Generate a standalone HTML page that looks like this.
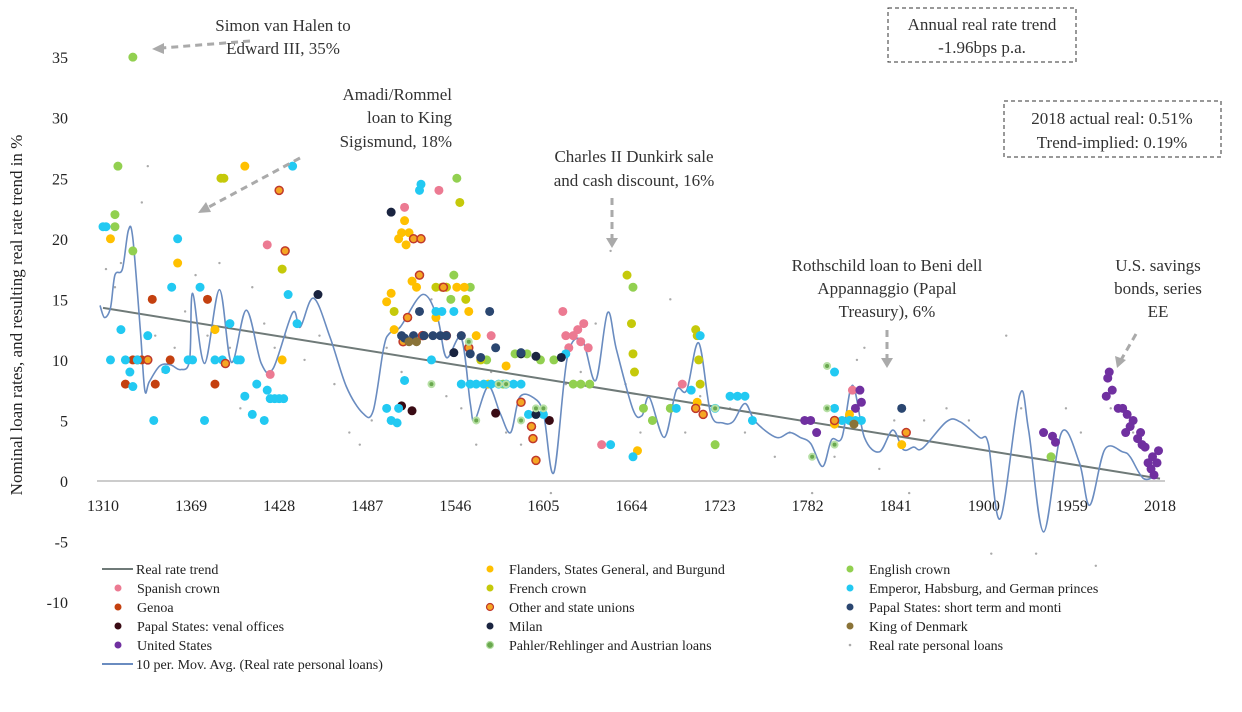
<!DOCTYPE html>
<html><head><meta charset="utf-8"><style>
body{margin:0;background:#fff;}
svg{display:block;font-family:"Liberation Serif",serif;}
</style></head><body>
<svg id="chart" width="1242" height="712" viewBox="0 0 1242 712" xmlns="http://www.w3.org/2000/svg">
<g id="axes"></g>
<g id="marks"></g>
<g id="annot" fill="#333" font-size="17">
 <text text-anchor="middle" x="283" y="31">Simon van Halen to</text>
 <text text-anchor="middle" x="283" y="54">Edward III, 35%</text>
 <text text-anchor="end" x="452" y="100">Amadi/Rommel</text>
 <text text-anchor="end" x="452" y="123">loan to King</text>
 <text text-anchor="end" x="452" y="147">Sigismund, 18%</text>
 <text text-anchor="middle" x="634" y="162">Charles II Dunkirk sale</text>
 <text text-anchor="middle" x="634" y="186">and cash discount, 16%</text>
 <text text-anchor="middle" x="887" y="271">Rothschild loan to Beni dell</text>
 <text text-anchor="middle" x="887" y="294">Appannaggio (Papal</text>
 <text text-anchor="middle" x="887" y="317">Treasury), 6%</text>
 <text text-anchor="middle" x="1158" y="271">U.S. savings</text>
 <text text-anchor="middle" x="1158" y="294">bonds, series</text>
 <text text-anchor="middle" x="1158" y="317">EE</text>
 <rect x="888" y="8" width="188" height="54" fill="none" stroke="#333" stroke-dasharray="4,3"/>
 <text text-anchor="middle" x="982" y="30">Annual real rate trend</text>
 <text text-anchor="middle" x="982" y="53">-1.96bps p.a.</text>
 <rect x="1004" y="101" width="217" height="56" fill="none" stroke="#333" stroke-dasharray="4,3"/>
 <text text-anchor="middle" x="1112" y="124">2018 actual real: 0.51%</text>
 <text text-anchor="middle" x="1112" y="148">Trend-implied: 0.19%</text>
</g>
<g stroke="#aaa" stroke-width="3" stroke-dasharray="7,5" fill="none">
 <line x1="250" y1="41" x2="162" y2="48"/>
 <line x1="300" y1="158" x2="207" y2="208"/>
 <line x1="612" y1="198" x2="612" y2="240"/>
 <line x1="887" y1="330" x2="887" y2="360"/>
 <line x1="1136" y1="334" x2="1121" y2="360"/>
</g>
<g fill="#aaa">
 <polygon points="152,49 164,43 164,54"/>
 <polygon points="198,213 206,202 211,212"/>
 <polygon points="612,248 606,238 618,238"/>
 <polygon points="887,368 881,358 893,358"/>
 <polygon points="1117,368 1115,356 1126,360"/>
</g>
<g id="legend" font-size="14" fill="#222"></g>
</svg>
<script>
const yTicks=[35,30,25,20,15,10,5,0,-5,-10];
const xTicks=[1310,1369,1428,1487,1546,1605,1664,1723,1782,1841,1900,1959,2018];
const maYears=[1308,1311,1315,1318,1323,1327,1330,1335,1338,1341,1348,1355,1362,1368,1370,1378,1388,1396,1406,1416,1424,1437,1442,1451,1462,1473,1484,1491,1498,1502,1509,1524,1534,1540,1550,1556,1559,1568,1576,1583,1589,1598,1605,1612,1621,1631,1640,1648,1654,1665,1671,1676,1686,1694,1701,1709,1717,1725,1732,1740,1747,1761,1770,1777,1784,1792,1798,1805,1812,1820,1830,1839,1846,1853,1859,1875,1884,1897,1903,1911,1924,1930,1940,1952,1964,1971,1981,1993,1998,2007,2016];
const maValues=[14.5,13.5,14.3,17,17.5,20.7,20,12.5,7.5,8.2,9.5,9.6,9.2,10,15.5,9.7,15.8,9.8,14.1,9.7,9.3,13.9,12.7,15.1,11.9,7.8,5.6,5.8,11,12.2,12.7,15.4,13.5,10.2,11.8,6.4,5,7.8,5.6,4,6.9,6.9,5.6,0.7,10.2,11.6,8.3,13.9,10.8,5.9,5.4,6.9,3.6,7.5,7.5,11.4,5.6,4.8,4.9,6.4,4.9,3.6,4,3.6,3.1,1.2,3.4,3.6,7.9,3.6,2.4,4.2,2.6,2.8,2.7,4.9,4.9,3.6,3.1,-3.1,7.1,4.2,-4.2,4,1.5,-2,2.6,2.4,2,0.2,0.5];
const trendYears=[1310,2018];
const trendValues=[14.3,0.2];
const series={
english:[[1318,22],[1320,26],[1318,21],[1330,19],[1547,25],[1545,17],[1543,15],[1556,16],[1567,10],[1578,8],[1586,10.5],[1590,10.5],[1594,10.5],[1603,10],[1612,10],[1625,8],[1630,8],[1636,8],[1665,16],[1672,6],[1678,5],[1690,6],[1720,3],[1800,5],[1945,2],[1330,35]],
spanish:[[1420,19.5],[1422,8.8],[1512,22.6],[1535,24],[1550,12],[1570,12],[1618,14],[1620,12],[1625,12],[1628,12.5],[1632,13],[1622,11],[1630,11.5],[1635,11],[1644,3],[1698,8],[1812,7.5]],
genoa:[[1325,8],[1330,10],[1333,10],[1336,10],[1340,10],[1343,15],[1345,8],[1355,10],[1380,15],[1385,8]],
venal:[[1510,6.2],[1517,5.8],[1573,5.6],[1609,5]],
us:[[1780,5],[1784,5],[1788,4],[1814,6],[1817,7.5],[1818,6.5],[1940,4],[1946,3.7],[1948,3.2],[1982,7],[1983,8.5],[1984,9],[1986,7.5],[1990,6],[1993,6],[1996,5.5],[1995,4],[1998,4.5],[2000,5],[2003,3.5],[2005,4],[2006,3],[2008,2.8],[2010,1.5],[2012,1],[2014,0.5],[2016,1.5],[2017,2.5],[2013,2]],
flanders:[[1315,20],[1360,18],[1385,12.5],[1405,26],[1430,10],[1500,14.8],[1503,15.5],[1505,12.5],[1508,20],[1510,20.5],[1512,21.5],[1515,20.5],[1513,19.5],[1517,16.5],[1520,16],[1525,12],[1533,13.5],[1540,16],[1547,16],[1552,16],[1555,14],[1560,12],[1568,8],[1580,9.5],[1668,2.5],[1708,6.5],[1800,4.7],[1810,5.5],[1845,3]],
french:[[1389,25],[1391,25],[1430,17.5],[1505,14],[1533,16],[1537,16],[1540,16],[1549,23],[1553,15],[1563,10],[1661,17],[1664,13],[1665,10.5],[1666,9],[1707,12.5],[1708,12],[1709,10],[1710,8]],
emperor:[[1310,21],[1312,21],[1315,10],[1322,12.5],[1325,10],[1330,7.8],[1328,9],[1333,10],[1340,12],[1344,5],[1352,9.2],[1356,16],[1360,20],[1367,10],[1370,10],[1375,16],[1378,5],[1385,10],[1390,10],[1395,13],[1400,10],[1402,10],[1405,7],[1410,5.5],[1413,8],[1420,7.5],[1418,5],[1422,6.8],[1425,6.8],[1428,6.8],[1431,6.8],[1434,15.4],[1437,26],[1440,13],[1500,6],[1503,5],[1507,4.8],[1512,8.3],[1508,6],[1523,24.5],[1522,24],[1530,10],[1533,14],[1537,14],[1545,14],[1550,8],[1556,8],[1560,8],[1565,8],[1570,8],[1575,8],[1580,8],[1585,8],[1590,8],[1595,5.5],[1600,5.5],[1605,5.5],[1620,10.5],[1650,3],[1665,2],[1694,6],[1704,7.5],[1710,12],[1720,6],[1730,7],[1735,7],[1740,7],[1745,5],[1800,9],[1800,6],[1805,5],[1810,5],[1814,5],[1818,5]],
other:[[1340,10],[1392,9.7],[1428,24],[1432,19],[1518,20],[1523,20],[1522,17],[1524,12],[1511,11.5],[1514,13.5],[1538,16],[1540,12],[1555,11],[1590,6.5],[1597,4.5],[1598,3.5],[1600,1.7],[1707,6],[1712,5.5],[1800,5],[1848,4]],
milan:[[1454,15.4],[1503,22.2],[1545,10.6],[1590,10.5],[1600,10.3],[1617,10.2],[1600,5.5]],
pahler:[[1530,8],[1555,11.5],[1560,5],[1575,8],[1580,8],[1590,5],[1600,6],[1605,6],[1720,6],[1795,9.5],[1795,6],[1785,2],[1800,3]],
papalShort:[[1510,12],[1512,11.8],[1518,12],[1522,14],[1525,12],[1531,12],[1536,12],[1540,12],[1550,12],[1556,10.5],[1563,10.2],[1569,14],[1573,11],[1590,10.6],[1845,6]],
denmark:[[1515,11.5],[1520,11.5],[1813,4.7]]
};
const greyDots=[[1312,17.5],[1318,16],[1322,18],[1336,23],[1340,26],[1345,12],[1350,9],[1358,11],[1365,14],[1372,17],[1380,12],[1388,18],[1395,11],[1402,6],[1410,16],[1418,13],[1425,11],[1432,12],[1445,10],[1455,12],[1465,8],[1475,4],[1482,3],[1490,5],[1500,11],[1510,9],[1520,17],[1530,15],[1540,7],[1550,6],[1560,3],[1570,9],[1580,4],[1590,3],[1600,6],[1610,-1],[1620,8],[1630,9],[1640,13],[1650,19],[1660,8],[1670,4],[1680,5],[1690,15],[1700,4],[1710,7],[1720,3],[1730,6],[1740,4],[1760,2],[1770,4],[1785,-1],[1800,2],[1815,10],[1820,11],[1830,1],[1840,5],[1850,-1],[1860,5],[1875,6],[1890,5],[1905,-6],[1915,12],[1925,6],[1935,-6],[1945,-9],[1955,6],[1965,4],[1975,-7],[1985,6],[2000,4],[2010,1]];
const styles={english:['#92d050',null,4.5],spanish:['#ec7a92',null,4.5],genoa:['#c4400f',null,4.5],venal:['#3a0b14',null,4.5],us:['#7030a0',null,4.5],flanders:['#ffc000',null,4.5],french:['#c5c90a',null,4.5],emperor:['#22c9f2',null,4.5],other:['#f5a623','#c0392b',4],milan:['#1a2440',null,4.5],pahler:['#6aa84f','#b7e0a5',3],papalShort:['#2a4670',null,4.5],denmark:['#8a7338',null,4.5]};
const X0=103,X1=1160,Y0=481,PXU=12.11;
function xs(y){return X0+(y-1310)/(2018-1310)*(X1-X0);}
function ys(v){return Y0-v*PXU;}
const NS='http://www.w3.org/2000/svg';
function mk(t,a,p){const e=document.createElementNS(NS,t);for(const k in a)e.setAttribute(k,a[k]);p.appendChild(e);return e;}
const axes=document.getElementById('axes'),marks=document.getElementById('marks'),leg=document.getElementById('legend');
yTicks.forEach(v=>{const t=mk('text',{x:68,y:ys(v)+6,'text-anchor':'end','font-size':16,fill:'#222'},axes);t.textContent=v;

});
xTicks.forEach(v=>{const t=mk('text',{x:xs(v),y:511,'text-anchor':'middle','font-size':16,fill:'#222'},axes);t.textContent=v;

});
const ax=mk('line',{x1:97,y1:Y0,x2:1165,y2:Y0,stroke:'#bbb','stroke-width':1.5},axes);


const yt=mk('text',{x:0,y:0,transform:'translate(22,315) rotate(-90)','text-anchor':'middle','font-size':17,fill:'#222'},axes);
yt.textContent='Nominal loan rates, and resulting real rate trend in %';


greyDots.forEach(p=>{const c=mk('circle',{cx:xs(p[0]),cy:ys(p[1]),r:1.2,fill:'#aaa'},marks);

});
const tr=mk('line',{x1:xs(trendYears[0]),y1:ys(trendValues[0]),x2:xs(trendYears[1]),y2:ys(trendValues[1]),stroke:'#6f7a78','stroke-width':2},marks);


const P=maYears.map((y,i)=>[xs(y),ys(maValues[i])]);
let d='M'+P[0][0].toFixed(1)+','+P[0][1].toFixed(1);
for(let i=0;i<P.length-1;i++){const p0=P[Math.max(0,i-1)],p1=P[i],p2=P[i+1],p3=P[Math.min(P.length-1,i+2)];
 const c1=[p1[0]+(p2[0]-p0[0])/6,p1[1]+(p2[1]-p0[1])/6],c2=[p2[0]-(p3[0]-p1[0])/6,p2[1]-(p3[1]-p1[1])/6];
 d+='C'+c1[0].toFixed(1)+','+c1[1].toFixed(1)+' '+c2[0].toFixed(1)+','+c2[1].toFixed(1)+' '+p2[0].toFixed(1)+','+p2[1].toFixed(1);}
const ma=mk('path',{d:d,fill:'none',stroke:'#6a8cc0','stroke-width':1.6,'stroke-linejoin':'round'},marks);


Object.keys(series).forEach(k=>{const s=styles[k];series[k].forEach(p=>{
 const a={cx:xs(p[0]),cy:ys(p[1]),r:s[2],fill:s[0]};if(s[1]){a.stroke=s[1];a['stroke-width']=k==='pahler'?2:1.5;}
 const c=mk('circle',a,marks);
 
 });});
const legendItems=[
['line','#6f7a78','Real rate trend',118,569],['flanders',null,'Flanders, States General, and Burgund',490,569],['english',null,'English crown',850,569],
['spanish',null,'Spanish crown',118,588],['french',null,'French crown',490,588],['emperor',null,'Emperor, Habsburg, and German princes',850,588],
['genoa',null,'Genoa',118,607],['other',null,'Other and state unions',490,607],['papalShort',null,'Papal States: short term and monti',850,607],
['venal',null,'Papal States: venal offices',118,626],['milan',null,'Milan',490,626],['denmark',null,'King of Denmark',850,626],
['us',null,'United States',118,645],['pahler',null,'Pahler/Rehlinger and Austrian loans',490,645],['grey',null,'Real rate personal loans',850,645],
['line','#6a8cc0','10 per. Mov. Avg. (Real rate personal loans)',118,664]];
legendItems.forEach(it=>{const [k,col,label,x,y]=it;const g=mk('g',{},leg);
 
 
 if(k==='line'){mk('line',{x1:x-16,y1:y,x2:x+15,y2:y,stroke:col,'stroke-width':2},g);}
 else if(k==='grey'){mk('circle',{cx:x,cy:y,r:1.3,fill:'#aaa'},g);}
 else{const s=styles[k];const a={cx:x,cy:y,r:3.5,fill:s[0]};if(s[1]){a.stroke=s[1];a['stroke-width']=1.2;}mk('circle',a,g);}
 const t=mk('text',{x:x+(k==='line'?18:19),y:y+5},g);t.textContent=label;});
</script>
</body></html>
